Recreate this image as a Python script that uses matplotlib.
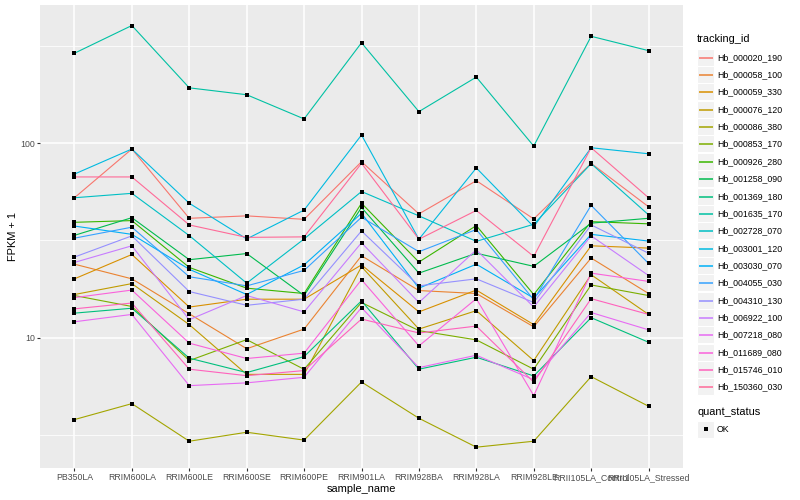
import numpy as np
import matplotlib
matplotlib.use("Agg")
import matplotlib.pyplot as plt
import matplotlib.ticker as ticker
from matplotlib.patches import Rectangle

plt.rcParams['font.family'] = ['Liberation Sans', 'DejaVu Sans']

# sample names on the x axis
samples = ["PB350LA", "RRIM600LA", "RRIM600LE", "RRIM600SE", "RRIM600PE", "RRIM901LA",
           "RRIM928BA", "RRIM928LA", "RRIM928LE", "RRII105LA_Control", "RRII105LA_Stressed"]

# FPKM + 1 per gene, one value per sample
hb_000020_190 = [52.4, 93.2, 41.1, 42.3, 40.6, 80.2, 43.3, 64.1, 40.8, 78.7, 47.1]
hb_000058_100 = [23.9, 20.1, 13.3, 8.8, 11.1, 26.4, 17.5, 16.9, 11.4, 25.7, 16.9]
hb_000059_330 = [20.1, 26.8, 14.4, 15.8, 15.8, 23.7, 13.6, 17.6, 11.7, 29.7, 28.9]
hb_000076_120 = [16.7, 19.0, 11.7, 6.5, 6.5, 23.2, 11.1, 13.8, 7.65, 21.1, 13.2]
hb_000086_380 = [3.81, 4.60, 2.95, 3.28, 2.99, 5.94, 3.87, 2.75, 2.95, 6.33, 4.46]
hb_000853_170 = [16.5, 14.5, 7.65, 9.8, 6.9, 15.2, 10.9, 9.77, 6.91, 18.7, 16.5]
hb_000926_280 = [39.2, 40.0, 23.0, 18.0, 16.9, 49.1, 24.5, 37.7, 16.7, 39.5, 38.5]
hb_001258_090 = [33.6, 41.4, 25.2, 27.1, 16.5, 46.7, 21.5, 27.2, 23.3, 38.8, 41.1]
hb_001369_180 = [13.4, 14.2, 7.87, 6.64, 8.02, 15.5, 6.91, 7.96, 6.38, 12.7, 9.5]
hb_001635_170 = [289, 401, 192, 177, 133, 327, 145, 218, 96.5, 353, 298]
hb_002728_070 = [52.4, 55.2, 33.5, 19.1, 32.2, 56.4, 42.3, 31.3, 38.3, 78.4, 42.8]
hb_003001_120 = [69.3, 93.2, 49.1, 32.2, 45.3, 110, 32.1, 74.5, 37.2, 94.6, 88.1]
hb_003030_070 = [37.5, 34.0, 22.5, 16.7, 23.7, 43.6, 18.0, 23.9, 16.0, 34.0, 31.4]
hb_004055_030 = [32.5, 37.0, 20.6, 18.5, 22.2, 41.6, 27.7, 36.0, 15.7, 47.9, 24.1]
hb_004310_130 = [26.0, 33.4, 17.3, 14.7, 15.8, 35.4, 18.5, 20.1, 15.2, 38.0, 27.2]
hb_006922_100 = [24.4, 29.7, 12.4, 16.5, 13.6, 30.8, 15.2, 28.3, 14.4, 33.4, 20.9]
hb_007218_080 = [12.1, 13.2, 5.69, 5.88, 6.28, 14.3, 7.04, 8.15, 6.10, 13.5, 11.0]
hb_011689_080 = [16.1, 17.6, 9.4, 7.84, 8.35, 19.9, 9.1, 15.9, 5.06, 21.5, 19.5]
hb_015746_010 = [14.1, 15.1, 6.91, 6.4, 6.8, 12.5, 10.6, 11.5, 5.93, 15.9, 13.2]
hb_150360_030 = [67.0, 67.0, 38.0, 32.8, 33.0, 78.7, 32.1, 45.1, 26.2, 94.6, 52.4]

tracking_ids = ["Hb_000020_190", "Hb_000058_100", "Hb_000059_330", "Hb_000076_120",
                "Hb_000086_380", "Hb_000853_170", "Hb_000926_280", "Hb_001258_090",
                "Hb_001369_180", "Hb_001635_170", "Hb_002728_070", "Hb_003001_120",
                "Hb_003030_070", "Hb_004055_030", "Hb_004310_130", "Hb_006922_100",
                "Hb_007218_080", "Hb_011689_080", "Hb_015746_010", "Hb_150360_030"]
series = [hb_000020_190, hb_000058_100, hb_000059_330, hb_000076_120, hb_000086_380,
          hb_000853_170, hb_000926_280, hb_001258_090, hb_001369_180, hb_001635_170,
          hb_002728_070, hb_003001_120, hb_003030_070, hb_004055_030, hb_004310_130,
          hb_006922_100, hb_007218_080, hb_011689_080, hb_015746_010, hb_150360_030]


def hue_colors(n, c=100.0, l=65.0):
    # ggplot2 default hue palette (polar Luv -> sRGB)
    hues = np.linspace(15, 375, n + 1)[:n]
    Xn, Yn, Zn = 95.047, 100.0, 108.883
    un = 4 * Xn / (Xn + 15 * Yn + 3 * Zn)
    vn = 9 * Yn / (Xn + 15 * Yn + 3 * Zn)
    out = []
    for h in hues:
        u = c * np.cos(np.deg2rad(h))
        v = c * np.sin(np.deg2rad(h))
        Y = Yn * ((l + 16) / 116) ** 3
        up = u / (13 * l) + un
        vp = v / (13 * l) + vn
        X = Y * 9 * up / (4 * vp)
        Z = Y * (12 - 3 * up - 20 * vp) / (4 * vp)
        X, Y2, Z = X / 100, Y / 100, Z / 100
        rgb = np.array([3.2406 * X - 1.5372 * Y2 - 0.4986 * Z,
                        -0.9689 * X + 1.8758 * Y2 + 0.0415 * Z,
                        0.0557 * X - 0.2040 * Y2 + 1.0570 * Z])
        rgb = np.where(rgb <= 0.0031308, 12.92 * rgb, 1.055 * np.abs(rgb) ** (1 / 2.4) - 0.055)
        out.append(tuple(np.clip(rgb, 0, 1)))
    return out


colors = hue_colors(len(tracking_ids))
x = np.arange(len(samples))

fig = plt.figure(figsize=(8, 5), dpi=100)
ax = fig.add_axes([40 / 800, 1 - 468 / 500, (683 - 40) / 800, (468 - 5) / 500])
ax.set_facecolor("#EBEBEB")
for s in ax.spines.values():
    s.set_visible(False)

#lines then black points on top
for vals, col in zip(series, colors):
    ax.plot(x, vals, color=col, lw=0.8, zorder=2)
for vals in series:
    ax.plot(x, vals, "s", color="black", ms=2.4, mew=0, zorder=3)

ax.set_yscale("log")
ax.set_ylim(2.15, 511)
ax.set_xlim(-0.6, len(samples) - 0.4)
ax.yaxis.set_major_locator(ticker.FixedLocator([10, 100]))
ax.yaxis.set_major_formatter(ticker.FixedFormatter(["10", "100"]))
ax.yaxis.set_minor_locator(ticker.FixedLocator([10 ** 0.5, 10 ** 1.5, 10 ** 2.5]))
ax.yaxis.set_minor_formatter(ticker.NullFormatter())
ax.set_xticks(x)
ax.set_xticklabels(samples)

ax.grid(which="major", color="white", lw=1.1)
ax.grid(which="minor", axis="y", color="white", lw=0.55)
ax.set_axisbelow(True)
ax.tick_params(which="major", length=2, width=0.8, color="#333333",
               labelsize=6.3, labelcolor="#4D4D4D", pad=1.5)
ax.tick_params(which="minor", length=0)

ax.set_xlabel("sample_name", fontsize=7.9, labelpad=1.5)
ax.set_ylabel("FPKM + 1", fontsize=7.9, labelpad=2)

#legend drawn in pixel coordinates
lax = fig.add_axes([0, 0, 1, 1])
lax.set_xlim(0, 800)
lax.set_ylim(500, 0)
lax.axis("off")
lax.text(697, 39, "tracking_id", fontsize=7.9, va="center", ha="left")
for i, (name, col) in enumerate(zip(tracking_ids, colors)):
    y = round(56.7 + i * 17.35) + 0.5
    lax.add_patch(Rectangle((697, y - 8.5), 17, 17, fc="#F2F2F2", ec="white", lw=0.8, zorder=1))
    lax.plot([699, 713], [y, y], color=col, lw=1.1, zorder=3, solid_capstyle="butt")
    lax.text(717, y, name, fontsize=6.3, va="center", ha="left")
lax.text(697, 412, "quant_status", fontsize=7.9, va="center", ha="left")
lax.add_patch(Rectangle((697, 420.5), 17, 17, fc="#F2F2F2", ec="white", lw=0.8))
lax.plot([705.5], [429], "s", color="black", ms=2.4, mew=0)
lax.text(717, 429, "OK", fontsize=6.3, va="center", ha="left")

fig.savefig("out.png", dpi=100)
